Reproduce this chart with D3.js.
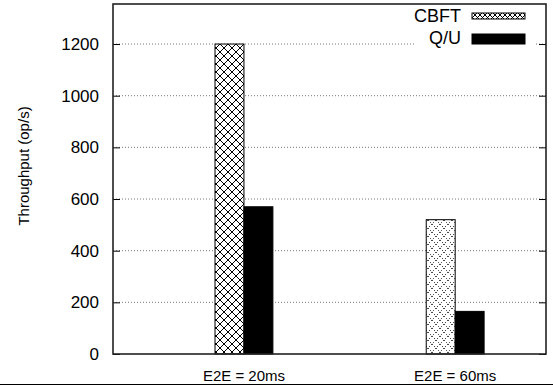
<!DOCTYPE html>
<html>
<head>
<meta charset="utf-8">
<script src="https://cdn.jsdelivr.net/npm/d3@7"></script>
<style>
body { margin:0; background:#fff; }
svg { display:block; font-family:"Liberation Sans", Arial, sans-serif; }
</style>
</head>
<body>
<svg id="chart" width="553" height="387"></svg>
<script>
// data
var categories = ["E2E = 20ms", "E2E = 60ms"];
var seriesNames = ["CBFT", "Q/U"];
var cbftValues = [1200, 520];
var quValues = [570, 165];
var yTicks = [0, 200, 400, 600, 800, 1000, 1200];

var svg = d3.select("#chart");
// plot box (window.top is reserved, so use other names)
var plotL = 113, plotR = 546, plotT = 4, plotB = 354;

var x = d3.scaleLinear().domain([-0.62, 1.43]).range([plotL, plotR]);
var y = d3.scaleLinear().domain([0, 1355]).range([plotB, plotT]);
var barW = x(0.137) - x(0);

// patterns
var defs = svg.append("defs");
function hatch(id, size, dash) {
  var p = defs.append("pattern").attr("id", id)
    .attr("patternUnits", "userSpaceOnUse")
    .attr("width", size).attr("height", size);
  p.append("rect").attr("width", size).attr("height", size).attr("fill", "#fff");
  p.append("path")
    .attr("d", "M0,0L" + size + "," + size + "M" + size + ",0L0," + size)
    .attr("stroke", "#000").attr("stroke-width", 1)
    .attr("stroke-dasharray", dash || null);
}
hatch("hatchA", 8);
hatch("hatchB", 8, "1,2");
hatch("hatchKey", 5);

// grid (dotted)
svg.append("g").selectAll("line").data(yTicks.slice(1)).join("line")
  .attr("x1", plotL).attr("x2", plotR)
  .attr("y1", function(d){ return y(d); }).attr("y2", function(d){ return y(d); })
  .attr("stroke", "#777").attr("stroke-width", 1)
  .attr("stroke-dasharray", "1,2");

// key background hides grid
svg.append("rect").attr("x", 415).attr("y", plotT + 1).attr("width", 120).attr("height", 44)
  .attr("fill", "#fff");

// bars
var bars = svg.append("g");
bars.selectAll("rect.cbft").data(cbftValues).join("rect")
  .attr("class", "cbft")
  .attr("x", function(d, i){ return x(i) - barW; })
  .attr("y", function(d){ return y(d); })
  .attr("width", barW)
  .attr("height", function(d){ return plotB - y(d); })
  .attr("fill", function(d, i){ return i == 0 ? "url(#hatchA)" : "url(#hatchB)"; })
  .attr("stroke", "#000").attr("stroke-width", 1);
bars.selectAll("rect.qu").data(quValues).join("rect")
  .attr("class", "qu")
  .attr("x", function(d, i){ return x(i); })
  .attr("y", function(d){ return y(d); })
  .attr("width", barW)
  .attr("height", function(d){ return plotB - y(d); })
  .attr("fill", "#000").attr("stroke", "#000").attr("stroke-width", 1);

// axes with inward ticks
var yAxisL = d3.axisLeft(y).tickValues(yTicks).tickFormat(d3.format("d"))
  .tickSizeInner(-7).tickSizeOuter(0).tickPadding(14);
var gL = svg.append("g").attr("transform", "translate(" + plotL + ",0)").call(yAxisL)
  .attr("font-family", "Liberation Sans, Arial, sans-serif").attr("font-size", 17);
gL.select(".domain").remove();
gL.selectAll("text").attr("fill", "#000");
gL.selectAll("line").attr("stroke", "#000");

var yAxisR = d3.axisRight(y).tickValues(yTicks).tickSizeInner(-7).tickSizeOuter(0).tickFormat("");
var gR = svg.append("g").attr("transform", "translate(" + plotR + ",0)").call(yAxisR);
gR.select(".domain").remove();
gR.selectAll("line").attr("stroke", "#000");

// x labels
svg.append("g").selectAll("text").data(categories).join("text")
  .attr("x", function(d, i){ return x(i); })
  .attr("y", 381)
  .attr("text-anchor", "middle")
  .attr("font-size", 15)
  .text(function(d){ return d; });

// frame
svg.append("rect").attr("x", plotL).attr("y", plotT)
  .attr("width", plotR - plotL).attr("height", plotB - plotT)
  .attr("fill", "none").attr("stroke", "#222").attr("stroke-width", 1.6);

// bottom rule
svg.append("line").attr("x1", 0).attr("x2", 553).attr("y1", 384.5).attr("y2", 384.5)
  .attr("stroke", "#000").attr("stroke-width", 1);

// y label
svg.append("text")
  .attr("transform", "translate(29,166) rotate(-90)")
  .attr("text-anchor", "middle")
  .attr("font-size", 15)
  .text("Throughput (op/s)");

// key
var key = svg.append("g");
var keyFill = ["url(#hatchKey)", "#000"];
seriesNames.forEach(function(name, i){
  var ky = 16 + i * 22;
  key.append("text").attr("x", 461).attr("y", ky + 6)
    .attr("text-anchor", "end").attr("font-size", 18).text(name);
  key.append("rect").attr("x", 472).attr("y", ky - 4 + (i == 0 ? 1 : 0))
    .attr("width", 53).attr("height", i == 0 ? 6 : 10)
    .attr("fill", keyFill[i]).attr("stroke", "#000").attr("stroke-width", 1);
});
</script>
</body>
</html>
